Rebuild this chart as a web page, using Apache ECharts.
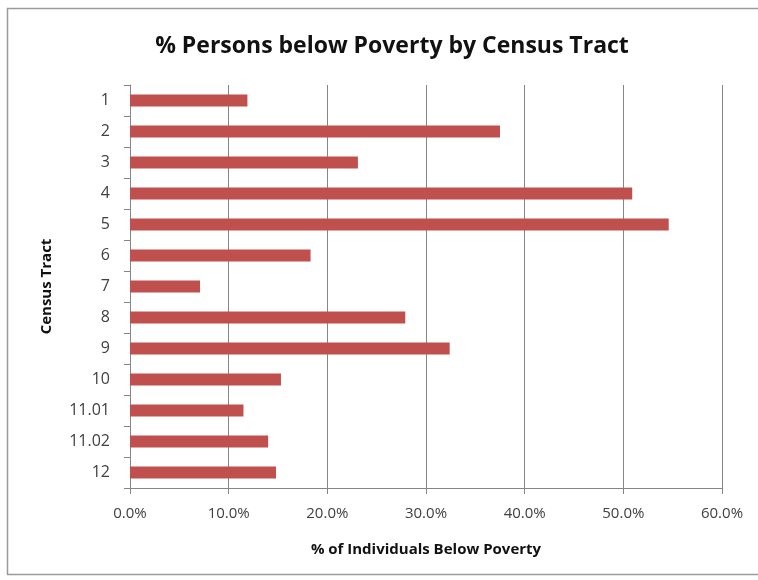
<!DOCTYPE html>
<html>
<head>
<meta charset="utf-8">
<script src="https://cdn.jsdelivr.net/npm/echarts@6/dist/echarts.min.js"></script>
<style>
  html, body { margin: 0; padding: 0; background: #ffffff; }
  #chart { width: 758px; height: 580px; }
</style>
</head>
<body>
<div id="chart"></div>
<script>
// Census tracts, top to bottom
const tracts = ['1', '2', '3', '4', '5', '6', '7', '8', '9', '10', '11.01', '11.02', '12'];
// Share of individuals below the poverty line, in percent
const povertyPct = [11.9, 37.5, 23.1, 50.9, 54.6, 18.3, 7.1, 27.9, 32.4, 15.3, 11.5, 14.0, 14.8];
// Value-axis tick labels
const xTicks = ['0.0%', '10.0%', '20.0%', '30.0%', '40.0%', '50.0%', '60.0%'];

const chartTitle = '% Persons below Poverty by Census Tract';
const xName = '% of Individuals Below Poverty';
const yName = 'Census Tract';

const font = '"Open Sans", "Noto Sans", sans-serif';
const axisGray = '#868686';
const textGray = '#404040';

const chart = echarts.init(document.getElementById('chart'), null, { renderer: 'canvas' });

chart.setOption({
  backgroundColor: '#ffffff',
  animation: false,
  graphic: [{
    type: 'rect',
    shape: { x: 7.5, y: 8.5, width: 760, height: 566 },
    style: { fill: 'none', stroke: '#9a9a9a', lineWidth: 1.5 },
    silent: true,
    z: -1
  }],
  title: {
    text: chartTitle,
    left: 387,
    textAlign: 'center',
    top: 30,
    textStyle: { fontFamily: font, fontSize: 23, fontWeight: 'bold', color: '#111111' }
  },
  grid: { left: 130, right: 36, top: 85, bottom: 92, containLabel: false },
  xAxis: {
    type: 'value',
    min: 0,
    max: 60,
    interval: 10,
    name: xName,
    nameLocation: 'middle',
    nameGap: 54,
    nameTextStyle: { fontFamily: font, fontSize: 15, fontWeight: 'bold', color: '#111111' },
    axisLine: { show: true, lineStyle: { color: axisGray, width: 1 } },
    axisTick: { show: true, length: 6, lineStyle: { color: axisGray } },
    axisLabel: {
      margin: 18,
      fontFamily: font,
      fontSize: 15,
      color: textGray,
      formatter: (v) => xTicks[Math.round(v / 10)]
    },
    splitLine: { show: true, lineStyle: { color: axisGray, width: 1 } }
  },
  yAxis: {
    type: 'category',
    data: tracts,
    inverse: true,
    name: yName,
    nameLocation: 'middle',
    nameGap: 76,
    nameRotate: 90,
    nameTextStyle: { fontFamily: font, fontSize: 15, fontWeight: 'bold', color: '#111111' },
    axisLine: { show: true, lineStyle: { color: axisGray, width: 1 } },
    axisTick: { show: true, length: 6, alignWithLabel: false, lineStyle: { color: axisGray } },
    axisLabel: { margin: 20, fontFamily: font, fontSize: 16, color: textGray },
    splitLine: { show: false }
  },
  series: [{
    type: 'bar',
    data: povertyPct,
    barWidth: 12,
    itemStyle: { color: '#C0504D' }
  }]
});
</script>
</body>
</html>
